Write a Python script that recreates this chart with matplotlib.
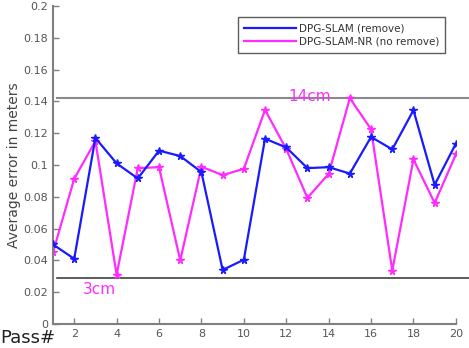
import matplotlib
matplotlib.use("Agg")
import matplotlib.pyplot as plt
from matplotlib.ticker import FuncFormatter

passes = list(range(1, 21))
err_remove = [0.050, 0.041, 0.117, 0.101, 0.0915, 0.109, 0.1056, 0.0955, 0.034, 0.0404,
              0.1165, 0.111, 0.098, 0.0986, 0.0946, 0.1176, 0.1098, 0.1344, 0.0875, 0.1134]
err_no_remove = [0.045, 0.0913, 0.115, 0.031, 0.098, 0.0986, 0.040, 0.0989, 0.0936, 0.0976,
                 0.1346, 0.110, 0.0793, 0.0944, 0.142, 0.1224, 0.0336, 0.1035, 0.0761, 0.1066]
upper_bound = 0.1423
lower_bound = 0.0287
x_ticks = list(range(2, 21, 2))
y_ticks = [i * 0.02 for i in range(11)]

fig = plt.figure(figsize=(4.69, 3.48), dpi=100)
ax = fig.add_axes([0.113, 0.069, 0.859, 0.914])

ax.axhline(upper_bound, xmin=0.01, xmax=1.04, color="#8a8a8a", lw=1.5, clip_on=False, zorder=1)
ax.axhline(lower_bound, xmin=0.01, xmax=1.04, color="#404040", lw=1.2, clip_on=False, zorder=1)

ax.plot(passes, err_no_remove, color="#ff2bff", lw=1.6, marker="*", ms=5.5,
        label="DPG-SLAM-NR (no remove)", zorder=2)
ax.plot(passes, err_remove, color="#1a1aff", lw=1.6, marker="*", ms=5.5,
        label="DPG-SLAM (remove)", zorder=3)

ax.text(12.1, upper_bound + 0.0005, "14cm", color="#ff2bff", fontsize=11, va="center", ha="left")
ax.text(2.4, lower_bound - 0.0025, "3cm", color="#ff2bff", fontsize=11, va="top", ha="left")
fig.text(0.0, 0.003, "Pass#", fontsize=13, color="#222222", va="bottom", ha="left")

ax.set_xlim(1, 20)
ax.set_ylim(0, 0.2)
ax.set_xticks(x_ticks)
ax.set_yticks(y_ticks)
ax.yaxis.set_major_formatter(FuncFormatter(lambda v, p: ("%.2f" % v).rstrip("0").rstrip(".")))
ax.tick_params(direction="in", length=4, width=1, colors="#808080", labelcolor="#555555", labelsize=8)
for s in ["top", "right"]:
    ax.spines[s].set_visible(False)
for s in ["left", "bottom"]:
    ax.spines[s].set_color("#808080")
    ax.spines[s].set_linewidth(1.5)

ax.set_ylabel("Average error in meters", fontsize=10, color="#444444", labelpad=2)

handles, labels = ax.get_legend_handles_labels()
leg = ax.legend(handles[::-1], labels[::-1], loc="upper right", bbox_to_anchor=(0.987, 0.98),
                fontsize=7.5, frameon=True, fancybox=False, edgecolor="#333333",
                handlelength=5, handletextpad=0.3, borderpad=0.55, labelspacing=0.35)
for h in leg.legend_handles:
    h.set_marker("")
for t in leg.get_texts():
    t.set_color("#333333")

fig.savefig("out.png", dpi=100)
